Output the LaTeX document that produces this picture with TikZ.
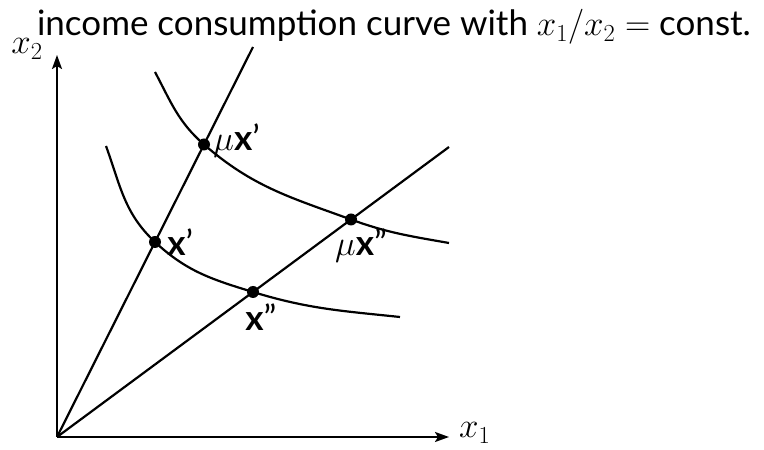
\RequirePackage{fix-cm}
\documentclass[tikz,border=0pt]{standalone}
\usepackage{fontspec}
\setmainfont{Lato}
\usetikzlibrary{arrows.meta,calc,positioning}
\tikzset{>={Stealth[length=14pt,width=10pt,inset=3pt]},every node/.style={font=\fontsize{35}{40}\selectfont,inner sep=1pt},axis/.style={line width=2.2pt,->},ray/.style={line width=2.2pt},indiff/.style={line width=2.2pt},pnt/.style={circle,fill,inner sep=0pt,minimum size=12pt}}

\begin{document}
\begin{tikzpicture}[x=1pt,y=1pt]
\useasboundingbox (0,0) rectangle (764,450);
\coordinate (O) at (57,13);\coordinate (xtip) at (449,13);\coordinate (ytip) at (57,395);
\draw[axis] (O)--(xtip);\draw[axis] (O)--(ytip);
\node (lx1) [right=9pt of xtip,yshift=4pt]{$x_1$};\node (lx2) at (27,401){$x_2$};
\node (title) [anchor=base] at (394,414){income consumption curve with $x_1/x_2=$ const.};
% bundles x', x'' and their multiples
\node[pnt] (xp) at (155,208){};\node[pnt] (xpp) at (253,158){};
\node[pnt] (mxp) at ($(O)!1.5!(xp)$){};\node[pnt] (mxpp) at ($(O)!1.5!(xpp)$){};
\coordinate (r1) at ($(O)!2!(xp)$);\coordinate (r2) at ($(O)!2!(xpp)$);
\draw[ray] (O)--(r1);\draw[ray] (O)--(r2);
% indifference curves
\coordinate (s1) at (106,304);\coordinate (e1) at (400,133);
\coordinate (s2) at (155,378);\coordinate (e2) at (449,207);
\draw[indiff] (s1) to[out=-70,in=137] (xp.center) to[out=-43,in=163] (xpp.center) to[out=-17,in=174] (e1);
\draw[indiff] (s2) to[out=-62,in=139] (mxp.center) to[out=-41,in=160] (mxpp.center) to[out=-20,in=170] (e2);
\node (lxp) [right=5pt of xp]{\textbf{x}'};\node (lmxp) [right=2pt of mxp,yshift=4pt]{$\mu$\textbf{x}'};
\node (lxpp) [below=4pt of xpp,xshift=8pt]{\textbf{x}''};\node (lmxpp) [below=2pt of mxpp,xshift=10pt]{$\mu$\textbf{x}''};
\end{tikzpicture}
\end{document}
